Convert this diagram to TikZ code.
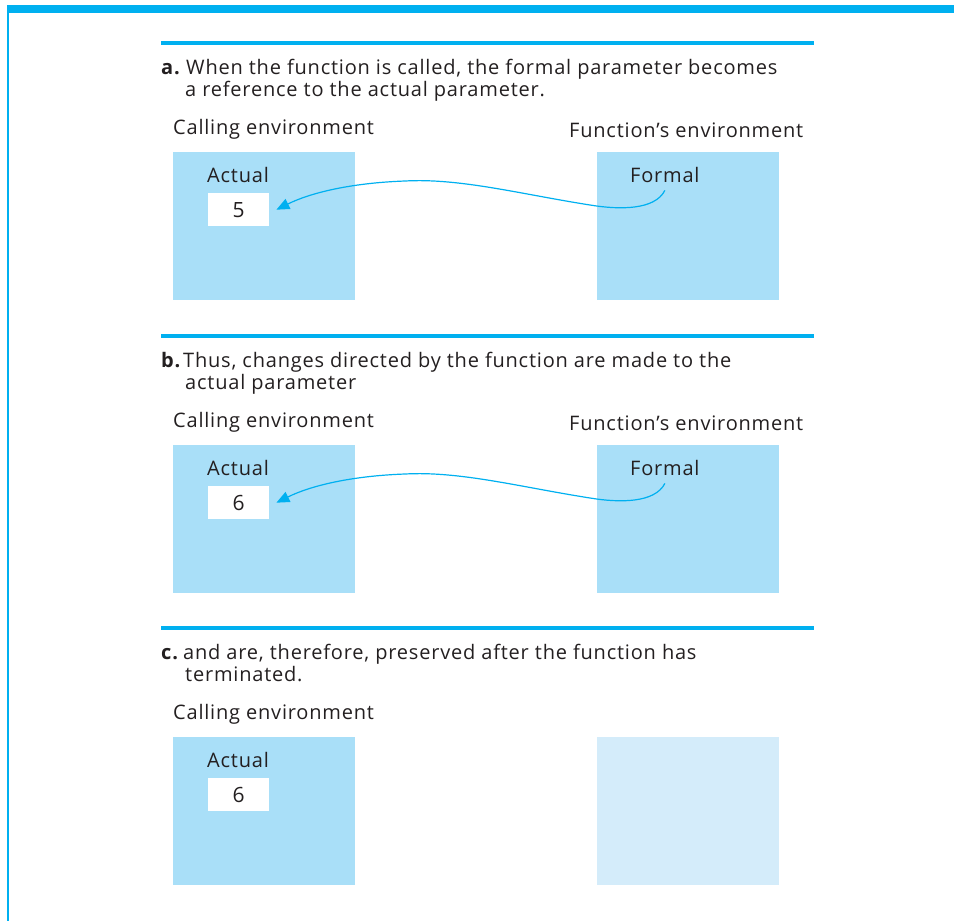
\documentclass[tikz,border=0pt]{standalone}
\usepackage{fontspec}
\setmainfont[LetterSpace=4]{Open Sans}
\usetikzlibrary{arrows.meta}
\definecolor{barc}{HTML}{00B0F0}
\definecolor{boxc}{HTML}{A9DFF8}
\definecolor{boxl}{HTML}{D4ECFA}
\definecolor{ink}{HTML}{231F20}
\tikzset{
  txt/.style={anchor=base west, inner sep=0pt, text=ink, font=\fontsize{20}{24}\selectfont},
  lbl/.style={txt, font=\fontsize{20}{24}\selectfont\bfseries},
  envbox/.style={anchor=north west, fill=boxc, inner sep=0pt, minimum width=182pt, minimum height=148pt},
  valbox/.style={anchor=north west, fill=white, inner sep=0pt, minimum width=61pt, minimum height=33pt, text=ink, font=\fontsize{21}{24}\selectfont},
  rule/.style={barc, line width=3.5pt},
  refarrow/.style={barc, line width=1.2pt, -{Triangle[length=13pt,width=11pt]}}
}
\begin{document}
\begin{tikzpicture}[x=1pt, y=-1pt]
\useasboundingbox (0,0) rectangle (954,921);
% frame
\fill[barc] (7,5) rectangle (954,13);
\fill[barc] (7,13) rectangle (9,921);

% ---------- section a ----------
\draw[rule] (161,43) -- (814,43);
\node[lbl] (la) at (161,74) {a.};
\node[txt] (ta1) at (186,74) {When the function is called, the formal parameter becomes};
\node[txt] (ta2) at (185,96) {a reference to the actual parameter.};
\node[txt] (cea) at (173,134) {Calling environment};
\node[txt] (fea) at (569,137) {Function’s environment};
\node[envbox] (ca) at (173,152) {};
\node[envbox] (fa) at (597,152) {};
\node[txt] (aca) at (207,182) {Actual};
\node[valbox] (va) at (208,193) {5};
\node[txt] (foa) at (630,182) {Formal};
\draw[refarrow] ([yshift=-8pt]foa.south) .. controls (655,210) and (620,210) .. (590,205)
  .. controls (520,194) and (460,178) .. (405,181)
  .. controls (350,183) and (310,193) .. ([xshift=7pt]va.east);

% ---------- section b ----------
\draw[rule] (161,336) -- (814,336);
\node[lbl] (lb) at (161,367) {b.};
\node[txt] (tb1) at (183,367) {Thus, changes directed by the function are made to the};
\node[txt] (tb2) at (185,389) {actual parameter};
\node[txt] (ceb) at (173,427) {Calling environment};
\node[txt] (feb) at (569,430) {Function’s environment};
\node[envbox] (cb) at (173,445) {};
\node[envbox] (fb) at (597,445) {};
\node[txt] (acb) at (207,475) {Actual};
\node[valbox] (vb) at (208,486) {6};
\node[txt] (fob) at (630,475) {Formal};
\draw[refarrow] ([yshift=-8pt]fob.south) .. controls (655,503) and (620,503) .. (590,498)
  .. controls (520,487) and (460,471) .. (405,474)
  .. controls (350,476) and (310,486) .. ([xshift=7pt]vb.east);

% ---------- section c ----------
\draw[rule] (161,628) -- (814,628);
\node[lbl] (lc) at (161,659) {c.};
\node[txt] (tc1) at (183,659) {and are, therefore, preserved after the function has};
\node[txt] (tc2) at (185,681) {terminated.};
\node[txt] (cec) at (173,719) {Calling environment};
\node[envbox] (cc) at (173,737) {};
\node[envbox, fill=boxl] (fc) at (597,737) {};
\node[txt] (acc) at (207,767) {Actual};
\node[valbox] (vc) at (208,778) {6};
\end{tikzpicture}
\end{document}
